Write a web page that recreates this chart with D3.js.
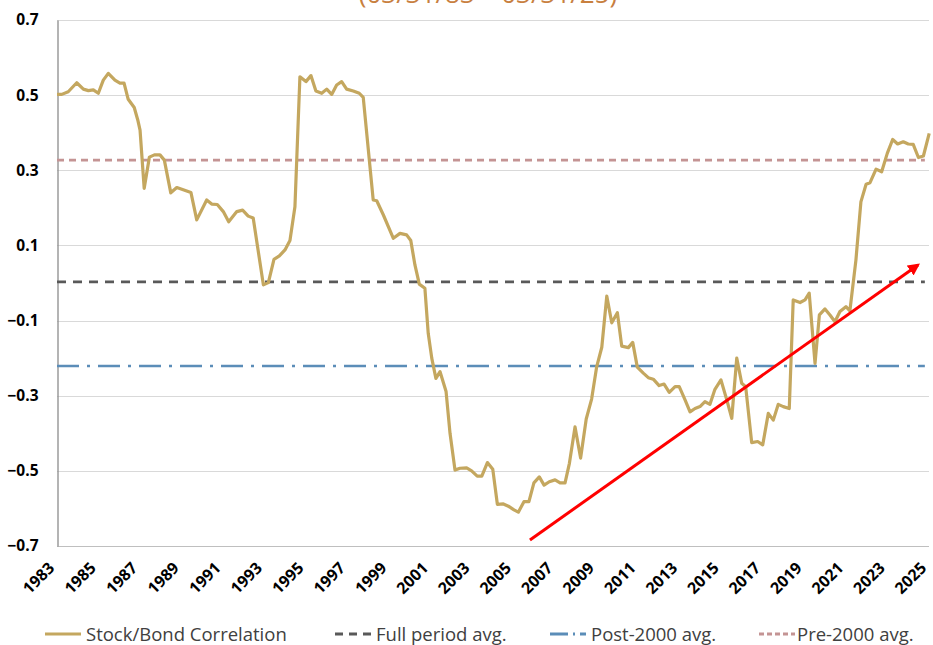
<!DOCTYPE html>
<html>
<head>
<meta charset="utf-8">
<script src="https://cdn.jsdelivr.net/npm/d3@7"></script>
<style>
  body { margin: 0; background: #fff; }
  svg { display: block; font-family: "Open Sans", "Noto Sans", sans-serif; }
</style>
</head>
<body>
<svg id="chart" width="933" height="645"></svg>
<script>
// Data (quarterly-ish, decimal years)
var dates = [1983.00, 1983.23, 1983.54, 1983.95, 1984.27, 1984.51, 1984.75, 1984.99, 1985.23, 1985.47,
  1985.79, 1986.03, 1986.23, 1986.43, 1986.72, 1986.89, 1987.00, 1987.20, 1987.45, 1987.69,
  1987.96, 1988.17, 1988.48, 1988.77, 1989.08, 1989.45, 1989.73, 1990.21, 1990.45, 1990.72,
  1991.01, 1991.27, 1991.66, 1991.94, 1992.21, 1992.45, 1992.94, 1993.18, 1993.45, 1993.71,
  1993.98, 1994.22, 1994.46, 1994.70, 1994.99, 1995.23, 1995.47, 1995.75, 1995.99, 1996.23,
  1996.47, 1996.71, 1996.95, 1997.27, 1997.56, 1997.75, 1998.23, 1998.40, 1998.72, 1999.20,
  1999.52, 1999.84, 2000.04, 2000.24, 2000.45, 2000.72, 2000.88, 2001.05, 2001.25, 2001.45,
  2001.74, 2001.93, 2002.17, 2002.41, 2002.73, 2002.97, 2003.24, 2003.46, 2003.73, 2003.99,
  2004.21, 2004.50, 2004.74, 2005.01, 2005.22, 2005.49, 2005.73, 2005.97, 2006.23, 2006.46,
  2006.71, 2006.99, 2007.23, 2007.47, 2007.68, 2007.95, 2008.22, 2008.49, 2008.75, 2008.99,
  2009.24, 2009.48, 2009.72, 2009.99, 2010.20, 2010.52, 2010.73, 2010.95, 2011.24, 2011.48,
  2011.72, 2012.00, 2012.24, 2012.49, 2012.77, 2012.97, 2013.25, 2013.49, 2013.73, 2013.97,
  2014.21, 2014.45, 2014.69, 2014.98, 2015.26, 2015.50, 2015.74, 2015.98, 2016.17, 2016.46,
  2016.75, 2016.99, 2017.26, 2017.50, 2017.74, 2017.98, 2018.27, 2018.46, 2018.79, 2019.03,
  2019.23, 2019.51, 2019.72, 2019.99, 2020.23, 2020.47, 2020.71, 2021.00, 2021.19, 2021.48,
  2021.72, 2021.97, 2022.16, 2022.45, 2022.72, 2022.99, 2023.25, 2023.49, 2023.76, 2024.00,
  2024.24, 2024.49, 2024.73, 2025.01];

var corr = [0.502, 0.502, 0.509, 0.533, 0.516, 0.512, 0.514, 0.505, 0.540, 0.558,
  0.540, 0.532, 0.532, 0.489, 0.467, 0.434, 0.407, 0.252, 0.335, 0.341,
  0.341, 0.327, 0.240, 0.254, 0.248, 0.241, 0.168, 0.221, 0.210, 0.209,
  0.190, 0.163, 0.190, 0.194, 0.178, 0.173, -0.005, 0.001, 0.063, 0.072,
  0.088, 0.113, 0.203, 0.549, 0.536, 0.552, 0.511, 0.505, 0.516, 0.502,
  0.527, 0.536, 0.516, 0.511, 0.505, 0.494, 0.221, 0.219, 0.181, 0.119,
  0.132, 0.128, 0.113, 0.048, -0.003, -0.014, -0.134, -0.200, -0.254, -0.236,
  -0.289, -0.400, -0.498, -0.493, -0.492, -0.500, -0.514, -0.514, -0.478, -0.496,
  -0.589, -0.588, -0.594, -0.604, -0.610, -0.582, -0.582, -0.532, -0.516, -0.538,
  -0.529, -0.524, -0.532, -0.532, -0.480, -0.383, -0.466, -0.362, -0.309, -0.224,
  -0.171, -0.035, -0.106, -0.079, -0.168, -0.172, -0.158, -0.224, -0.240, -0.252,
  -0.256, -0.273, -0.269, -0.291, -0.276, -0.276, -0.311, -0.343, -0.334, -0.329,
  -0.316, -0.323, -0.283, -0.258, -0.311, -0.360, -0.200, -0.267, -0.276, -0.425,
  -0.422, -0.431, -0.347, -0.365, -0.323, -0.329, -0.334, -0.045, -0.052, -0.045,
  -0.027, -0.214, -0.085, -0.069, -0.085, -0.103, -0.076, -0.063, -0.074, 0.061,
  0.216, 0.263, 0.267, 0.303, 0.296, 0.345, 0.382, 0.370, 0.376, 0.370,
  0.369, 0.334, 0.338, 0.398];

var yearTicks = d3.range(1983, 2026, 2);
var valueTicks = [-0.7, -0.5, -0.3, -0.1, 0.1, 0.3, 0.5, 0.7];

// reference averages
var avgNames = ["Full period avg.", "Post-2000 avg.", "Pre-2000 avg."];
var avgValues = [0.003, -0.221, 0.327];

// trend arrow [start, end] as [year, value]
var arrowFrom = [2005.78, -0.684];
var arrowTo = [2024.47, 0.048];

var titleText = "(03/31/83 \u2013 03/31/25)";

// Layout
var margin = { left: 57, right: 4, top: 20, bottom: 99 };
var width = 933;
var height = 645;

var svg = d3.select("#chart");

var x = d3.scaleLinear().domain([1983, 2025]).range([margin.left, width - margin.right]);
var y = d3.scaleLinear().domain([-0.7, 0.7]).range([height - margin.bottom, margin.top]);

// title (cut off at the top in the original)
svg.append("text")
  .attr("x", 488)
  .attr("y", 3)
  .attr("text-anchor", "middle")
  .attr("font-size", 26)
  .attr("fill", "#c8803f")
  .text(titleText);

// grid lines
svg.append("g")
  .selectAll("line")
  .data(valueTicks)
  .enter().append("line")
  .attr("x1", x.range()[0])
  .attr("x2", x.range()[1])
  .attr("y1", function(d) { return Math.round(y(d)) + 0.5; })
  .attr("y2", function(d) { return Math.round(y(d)) + 0.5; })
  .attr("stroke", function(d) { return d === -0.7 ? "#bfbfbf" : "#d9d9d9"; })
  .attr("stroke-width", 1);

// y axis
var yAxis = d3.axisLeft(y)
  .tickValues(valueTicks)
  .tickSize(0)
  .tickPadding(19)
  .tickFormat(d3.format(".1f"));

var yG = svg.append("g")
  .attr("transform", "translate(" + (margin.left + 0.5) + ",0)")
  .call(yAxis);
yG.select(".domain").attr("stroke", "#8c8c8c").attr("stroke-width", 1.3);
yG.selectAll("text")
  .attr("font-family", "Open Sans")
  .attr("font-weight", "bold")
  .attr("font-size", 15.5)
  .attr("fill", "#000");

// x axis (rotated year labels)
var xAxis = d3.axisBottom(x)
  .tickValues(yearTicks)
  .tickSize(0)
  .tickFormat(d3.format("d"));

var xG = svg.append("g")
  .attr("transform", "translate(0," + (height - margin.bottom) + ")")
  .call(xAxis);
xG.select(".domain").remove();
xG.selectAll("text")
  .attr("font-family", "Open Sans")
  .attr("font-weight", "bold")
  .attr("font-size", 16)
  .attr("fill", "#000")
  .attr("text-anchor", "end")
  .attr("dy", null)
  .attr("y", 0)
  .attr("transform", "translate(-2,23) rotate(-45)");

// average lines
var avgColors = ["#595959", "#5b8db8", "#c49494"];
var avgDash = ["9,7", "22,8,3,8", "7,5"];

svg.append("g")
  .selectAll("line")
  .data(avgValues)
  .enter().append("line")
  .attr("x1", x(1983))
  .attr("x2", x(2024.8))
  .attr("y1", function(d) { return y(d); })
  .attr("y2", function(d) { return y(d); })
  .attr("stroke", function(d, i) { return avgColors[i]; })
  .attr("stroke-width", 2.6)
  .attr("stroke-dasharray", function(d, i) { return avgDash[i]; });

// correlation line
var series = dates.map(function(d, i) { return [d, corr[i]]; });
var line = d3.line()
  .x(function(d) { return x(d[0]); })
  .y(function(d) { return y(d[1]); });

svg.append("path")
  .datum(series)
  .attr("d", line)
  .attr("fill", "none")
  .attr("stroke", "#c4a75f")
  .attr("stroke-width", 3.2)
  .attr("stroke-linejoin", "round");

// red trend arrow
svg.append("defs").append("marker")
  .attr("id", "arrowhead")
  .attr("viewBox", "0 0 10 10")
  .attr("refX", 8)
  .attr("refY", 5)
  .attr("markerWidth", 4)
  .attr("markerHeight", 4)
  .attr("orient", "auto")
  .append("path")
  .attr("d", "M0,0 L10,5 L0,10 z")
  .attr("fill", "#ff0000");

svg.append("line")
  .attr("x1", x(arrowFrom[0]))
  .attr("y1", y(arrowFrom[1]))
  .attr("x2", x(arrowTo[0]))
  .attr("y2", y(arrowTo[1]))
  .attr("stroke", "#ff0000")
  .attr("stroke-width", 3)
  .attr("marker-end", "url(#arrowhead)");

// legend
var legendNames = ["Stock/Bond Correlation"].concat(avgNames);
var legendColors = ["#c4a75f"].concat(avgColors);
var legendDash = [null, "8,6", "18,5,2,5", "5,3"];
var legendX = [45, 335, 550, 759];

var legend = svg.append("g").attr("transform", "translate(0,634)");
var item = legend.selectAll("g")
  .data(legendNames)
  .enter().append("g")
  .attr("transform", function(d, i) { return "translate(" + legendX[i] + ",0)"; });

item.append("line")
  .attr("x1", 0)
  .attr("x2", 36)
  .attr("y1", 0)
  .attr("y2", 0)
  .attr("stroke", function(d, i) { return legendColors[i]; })
  .attr("stroke-width", 3)
  .attr("stroke-dasharray", function(d, i) { return legendDash[i]; });

item.append("text")
  .attr("x", function(d, i) { return i === 3 ? 38 : 41; })
  .attr("y", 0)
  .attr("dy", "0.36em")
  .attr("font-size", 18.5)
  .attr("fill", "#404040")
  .text(function(d) { return d; });
</script>
</body>
</html>
